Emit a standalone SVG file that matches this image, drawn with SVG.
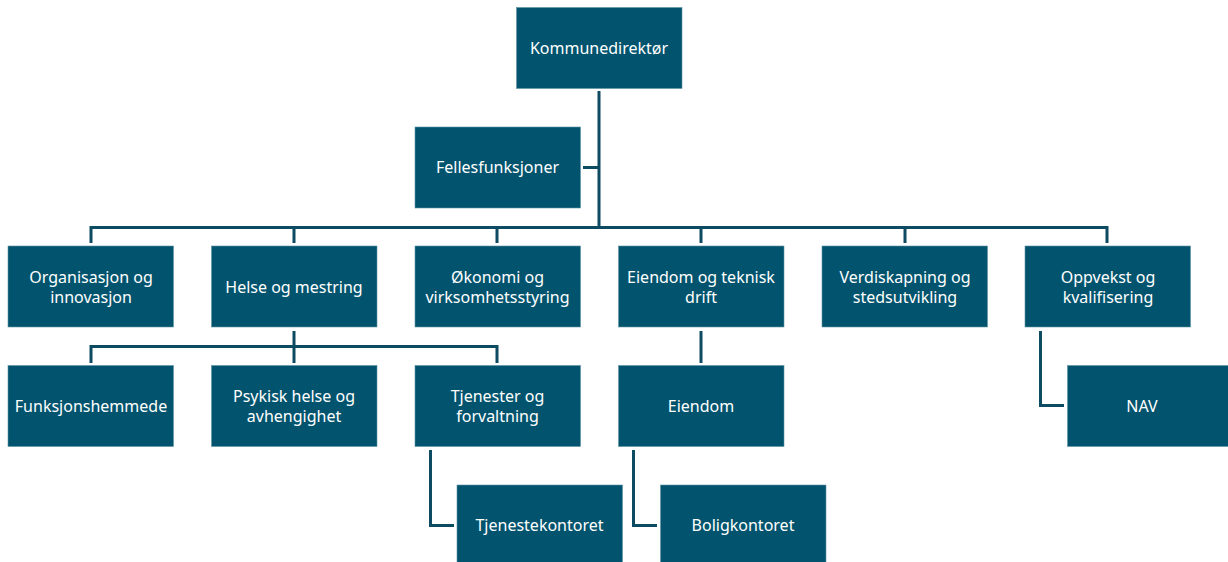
<svg xmlns="http://www.w3.org/2000/svg" width="1228" height="562" viewBox="0 0 1228 562">
<style>
.box{fill:#02546e;stroke:#5f93a6;stroke-width:0.6}
.t{font-family:"Noto Sans","Open Sans",sans-serif;font-size:16px;fill:#ffffff;text-anchor:middle;dominant-baseline:central}
.c{fill:none;stroke:#0d4b63;stroke-width:3}
</style>
<rect width="1228" height="562" fill="#ffffff"/>
<g id="connectors">
<path class="c" d="M599 91V227"/>
<path class="c" d="M583 167.5H599"/>
<path class="c" d="M91 243V227.5H1107V243"/>
<path class="c" d="M294 227.5V243M497 227.5V243M701 227.5V243M905 227.5V243"/>
<path class="c" d="M294 331V363"/>
<path class="c" d="M91 363V346.5H497V363"/>
<path class="c" d="M701 331V363"/>
<path class="c" d="M430.5 450V525.5H454"/>
<path class="c" d="M633.5 450V525.5H657"/>
<path class="c" d="M1040.5 331V405.5H1064"/>
</g>
<g id="n-kommunedirektor"><rect class="box" x="516.5" y="7.5" width="165.5" height="81"/><text class="t" x="599" y="47.5">Kommunedirektør</text></g>
<g id="n-fellesfunksjoner"><rect class="box" x="415" y="127" width="165.5" height="81"/><text class="t" x="497.5" y="167">Fellesfunksjoner</text></g>
<g id="n-organisasjon"><rect class="box" x="8" y="246" width="165.5" height="81"/><text class="t" x="91" y="276.5">Organisasjon og</text><text class="t" x="91" y="297">innovasjon</text></g>
<g id="n-helse"><rect class="box" x="211.5" y="246" width="165.5" height="81"/><text class="t" x="294" y="286.5">Helse og mestring</text></g>
<g id="n-okonomi"><rect class="box" x="415" y="246" width="165.5" height="81"/><text class="t" x="497.5" y="276.5">Økonomi og</text><text class="t" x="497.5" y="297">virksomhetsstyring</text></g>
<g id="n-eiendomteknisk"><rect class="box" x="618.5" y="246" width="165.5" height="81"/><text class="t" x="701" y="276.5">Eiendom og teknisk</text><text class="t" x="701" y="297">drift</text></g>
<g id="n-verdiskapning"><rect class="box" x="822" y="246" width="165.5" height="81"/><text class="t" x="905" y="276.5">Verdiskapning og</text><text class="t" x="905" y="297">stedsutvikling</text></g>
<g id="n-oppvekst"><rect class="box" x="1025" y="246" width="165.5" height="81"/><text class="t" x="1108" y="276.5">Oppvekst og</text><text class="t" x="1108" y="297">kvalifisering</text></g>
<g id="n-funksjonshemmede"><rect class="box" x="8" y="365.5" width="165.5" height="81"/><text class="t" x="91" y="406">Funksjonshemmede</text></g>
<g id="n-psykisk"><rect class="box" x="211.5" y="365.5" width="165.5" height="81"/><text class="t" x="294" y="395.5">Psykisk helse og</text><text class="t" x="294" y="416">avhengighet</text></g>
<g id="n-tjenester"><rect class="box" x="415" y="365.5" width="165.5" height="81"/><text class="t" x="497.5" y="395.5">Tjenester og</text><text class="t" x="497.5" y="416">forvaltning</text></g>
<g id="n-eiendom"><rect class="box" x="618.5" y="365.5" width="165.5" height="81"/><text class="t" x="701" y="406">Eiendom</text></g>
<g id="n-nav"><rect class="box" x="1067.5" y="365.5" width="165.5" height="81"/><text class="t" x="1142" y="406">NAV</text></g>
<g id="n-tjenestekontoret"><rect class="box" x="457" y="485" width="165.5" height="81"/><text class="t" x="539.5" y="525">Tjenestekontoret</text></g>
<g id="n-boligkontoret"><rect class="box" x="660.5" y="485" width="165.5" height="81"/><text class="t" x="743" y="525">Boligkontoret</text></g>
</svg>
